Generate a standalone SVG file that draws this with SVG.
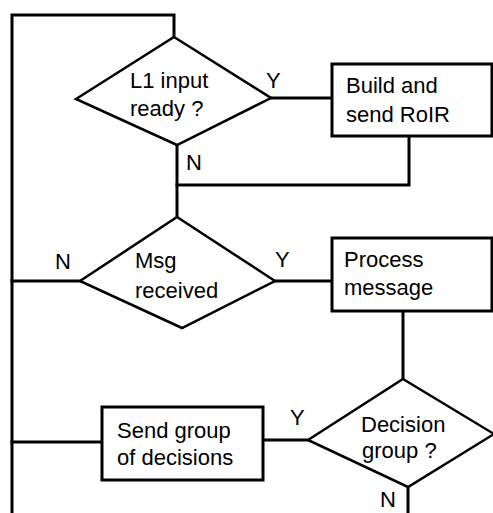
<svg xmlns="http://www.w3.org/2000/svg" width="493" height="513" viewBox="0 0 493 513">
  <style>
    .bg { fill: #ffffff; }
    .wire { fill: none; stroke: #000; stroke-width: 3; stroke-linecap: square; }
    .box { fill: #ffffff; stroke: #000; stroke-width: 3; }
    .dia { fill: #ffffff; stroke: #000; stroke-width: 2.5; stroke-linejoin: miter; }
    text { font-family: "Liberation Sans", Arial, sans-serif; font-size: 22px; fill: #000; }
  </style>
  <rect class="bg" x="0" y="0" width="493" height="513"/>

  <g id="connectors">
    <polyline class="wire" points="12,513 12,15 174,15 174,37"/>
    <line class="wire" x1="271" y1="98" x2="332" y2="98"/>
    <polyline class="wire" points="409,136 409,185 177,185"/>
    <line class="wire" x1="177" y1="145" x2="177" y2="217"/>
    <line class="wire" x1="12" y1="281" x2="80" y2="281"/>
    <line class="wire" x1="275" y1="281" x2="332" y2="281"/>
    <line class="wire" x1="403" y1="311" x2="403" y2="379"/>
    <line class="wire" x1="308" y1="440" x2="263" y2="440"/>
    <line class="wire" x1="102" y1="442" x2="12" y2="442"/>
    <line class="wire" x1="408" y1="487" x2="408" y2="515"/>
    <text x="266" y="88">Y</text>
    <text x="186" y="170">N</text>
    <text x="55" y="269">N</text>
    <text x="275" y="267">Y</text>
    <text x="290" y="425">Y</text>
    <text x="380" y="507">N</text>
  </g>

  <g id="l1-input-ready">
    <polygon class="dia" points="174,37 271,98 177,145 76,99"/>
    <text x="130" y="88">L1 input</text>
    <text x="130" y="116">ready ?</text>
  </g>

  <g id="build-and-send">
    <rect class="box" x="332" y="64" width="160" height="72"/>
    <text x="346" y="93">Build and</text>
    <text x="346" y="122">send RoIR</text>
  </g>

  <g id="msg-received">
    <polygon class="dia" points="177,217 275,281 182,328 80,281"/>
    <text x="135" y="268">Msg</text>
    <text x="135" y="298">received</text>
  </g>

  <g id="process-message">
    <rect class="box" x="332" y="238" width="160" height="73"/>
    <text x="344" y="267">Process</text>
    <text x="344" y="295">message</text>
  </g>

  <g id="decision-group">
    <polygon class="dia" points="403,379 494,434 408,487 308,440"/>
    <text x="361" y="432">Decision</text>
    <text x="362" y="458">group ?</text>
  </g>

  <g id="send-group">
    <rect class="box" x="102" y="407" width="161" height="73"/>
    <text x="117" y="438">Send group</text>
    <text x="117" y="465">of decisions</text>
  </g>
</svg>
